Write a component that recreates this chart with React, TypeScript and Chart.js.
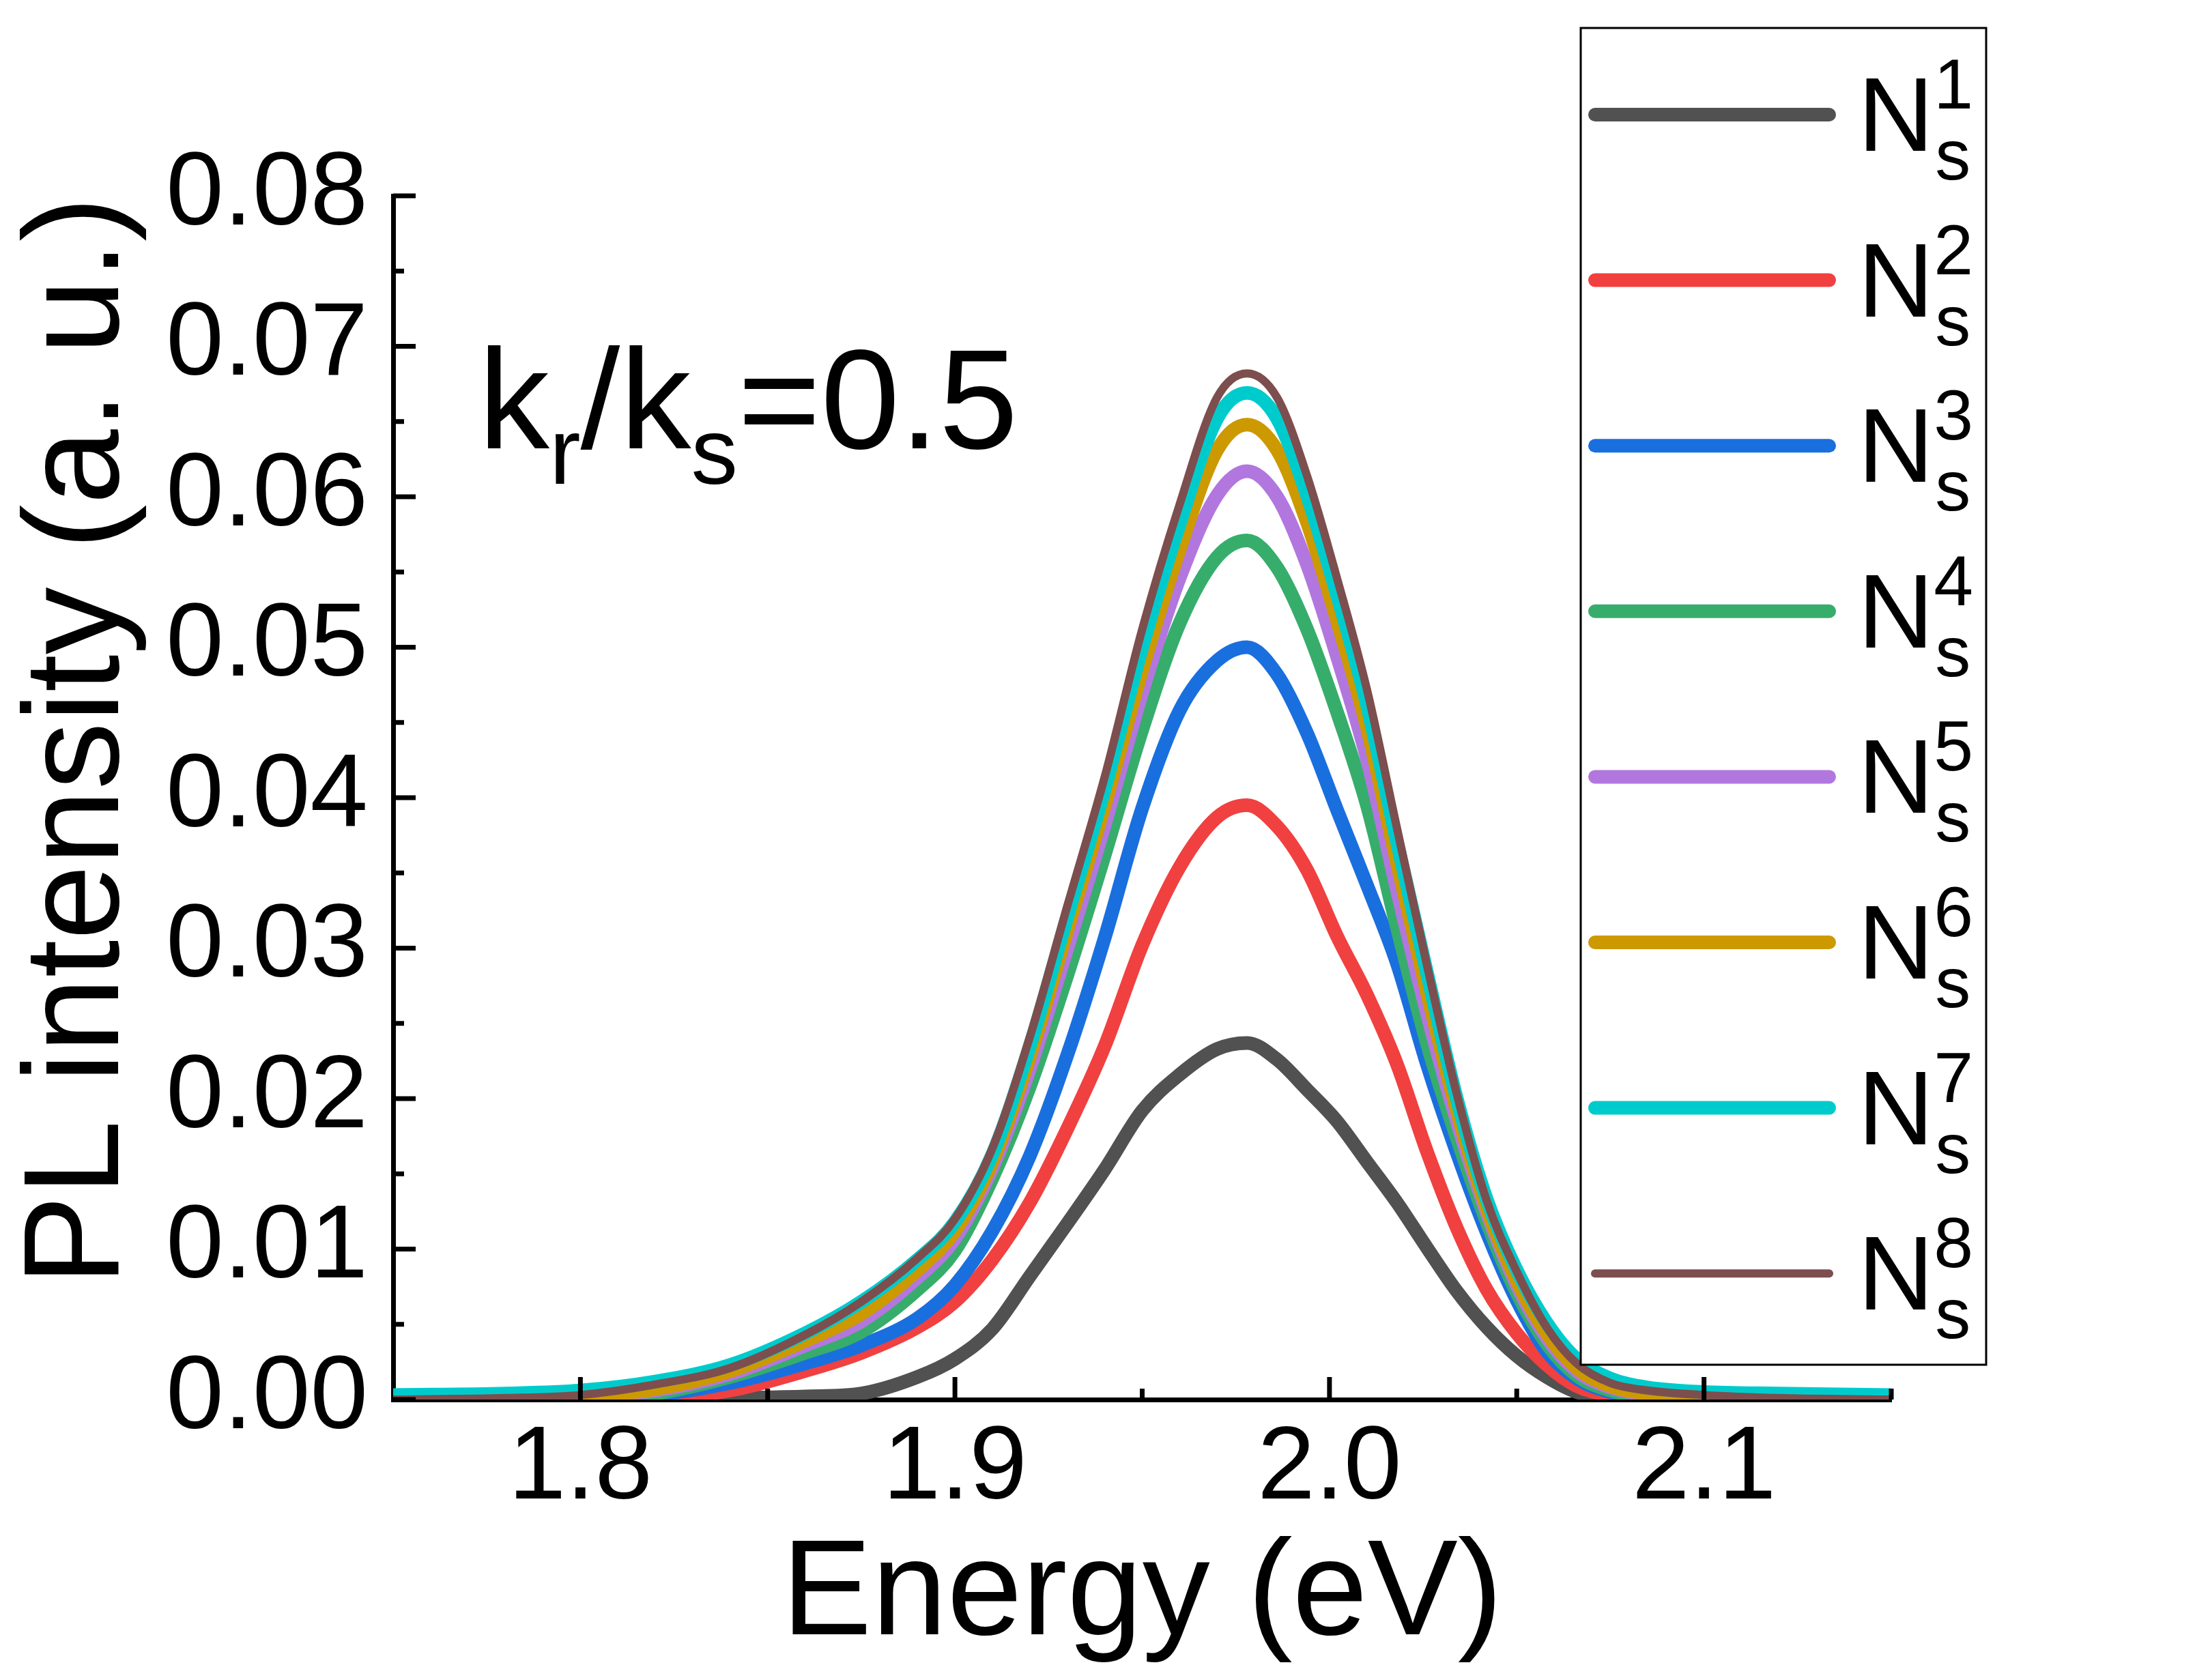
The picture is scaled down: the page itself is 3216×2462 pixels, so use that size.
import { useEffect, useRef } from "react";
import { Chart, ChartData, ChartOptions, Plugin, registerables } from "chart.js";

Chart.register(...registerables);

// photon energy grid (eV)
const energy = [
  1.75, 1.78, 1.8, 1.82, 1.84, 1.86, 1.875, 1.89, 1.9, 1.91, 1.92, 1.93, 1.94,
  1.95, 1.96, 1.97, 1.978, 1.986, 1.994, 2.002, 2.01, 2.018, 2.026, 2.034,
  2.042, 2.05, 2.058, 2.066, 2.075, 2.085, 2.1, 2.12, 2.15,
];

// PL intensity, one array per N_s
const pl1 = [
  0, 0, 0, 0, 0.0001, 0.0002, 0.0004, 0.0015, 0.0027, 0.0047, 0.0082, 0.0117,
  0.0153, 0.0192, 0.0216, 0.0233, 0.0237, 0.0226, 0.0206, 0.0185, 0.0158,
  0.0131, 0.0101, 0.0072, 0.0048, 0.0029, 0.0015, 0.0005, 0.0001, 0, 0, 0, 0,
];
const pl2 = [
  0, 0, 0, 0.0001, 0.0006, 0.0019, 0.0031, 0.0048, 0.0065, 0.0093, 0.0131,
  0.018, 0.0235, 0.0302, 0.0354, 0.0387, 0.0395, 0.0381, 0.0352, 0.0308,
  0.0269, 0.0223, 0.0165, 0.0114, 0.0073, 0.0044, 0.0023, 0.0009, 0.0003,
  0.0001, 0, 0, 0,
];
const pl3 = [
  0, 0, 0, 0.0003, 0.0011, 0.0024, 0.0036, 0.0054, 0.0076, 0.0112, 0.0162,
  0.0229, 0.0307, 0.0393, 0.0458, 0.0491, 0.05, 0.0482, 0.0443, 0.0392,
  0.0342, 0.029, 0.0223, 0.0164, 0.0111, 0.0066, 0.0032, 0.0014, 0.0005,
  0.0002, 0.0001, 0, 0,
];
const pl4 = [
  0, 0, 0.0001, 0.0004, 0.0015, 0.0031, 0.0045, 0.0073, 0.0099, 0.0147,
  0.0208, 0.0282, 0.0362, 0.0445, 0.0516, 0.056, 0.0571, 0.0553, 0.0512,
  0.0457, 0.0395, 0.0314, 0.0237, 0.0174, 0.0118, 0.0071, 0.0037, 0.0016,
  0.0006, 0.0002, 0.0001, 0, 0,
];
const pl5 = [
  0, 0, 0.0002, 0.0006, 0.0017, 0.0036, 0.0052, 0.0081, 0.0107, 0.0154, 0.022,
  0.03, 0.0382, 0.047, 0.0546, 0.0601, 0.0617, 0.06, 0.0555, 0.0494, 0.0426,
  0.0339, 0.0257, 0.0185, 0.0124, 0.0076, 0.0041, 0.0019, 0.0008, 0.0003,
  0.0001, 0, 0,
];
const pl6 = [
  0, 0.0001, 0.0002, 0.0007, 0.0019, 0.0039, 0.0057, 0.0086, 0.0112, 0.0158,
  0.0228, 0.0312, 0.0395, 0.0485, 0.0565, 0.0631, 0.0648, 0.0631, 0.0583,
  0.0518, 0.0447, 0.0357, 0.0271, 0.0192, 0.0127, 0.0079, 0.0044, 0.0021,
  0.0009, 0.0004, 0.0002, 0.0001, 0,
];
const pl7 = [
  0.0003, 0.0004, 0.0006, 0.0012, 0.0023, 0.0044, 0.0065, 0.0093, 0.0118,
  0.0163, 0.0235, 0.0321, 0.0406, 0.05, 0.0582, 0.0652, 0.0669, 0.0652,
  0.0601, 0.0535, 0.0462, 0.0371, 0.0284, 0.02, 0.0133, 0.0086, 0.0051,
  0.0027, 0.0014, 0.0008, 0.0005, 0.0004, 0.0003,
];
const pl8 = [
  0, 0.0001, 0.0003, 0.001, 0.0021, 0.0043, 0.0065, 0.0094, 0.012, 0.0167,
  0.0241, 0.0328, 0.0414, 0.0512, 0.0595, 0.0666, 0.0682, 0.0666, 0.0614,
  0.0546, 0.0472, 0.038, 0.0289, 0.0203, 0.0132, 0.0085, 0.0048, 0.0024,
  0.0011, 0.0006, 0.0003, 0.0001, 0,
];

const seriesValues = [pl1, pl2, pl3, pl4, pl5, pl6, pl7, pl8];
const seriesIndex = ["1", "2", "3", "4", "5", "6", "7", "8"];
const seriesColors = [
  "#515151", "#F14040", "#1A6FDF", "#37AD6B",
  "#B177DE", "#CC9900", "#00CBCC", "#7D4E4E",
];
const seriesWidths = [20, 20, 20, 20, 20, 20, 20, 12];

const xTickValues = [1.8, 1.9, 2.0, 2.1];
const xMinorTicks = [1.85, 1.95, 2.05, 2.15];
const yTickValues = [0, 0.01, 0.02, 0.03, 0.04, 0.05, 0.06, 0.07, 0.08];
const yMinorTicks = [0.005, 0.015, 0.025, 0.035, 0.045, 0.055, 0.065, 0.075];

const W = 3200;
const H = 2446;
const FONT = '"Liberation Sans", Arial, sans-serif';

const decorations: Plugin<"line"> = {
  id: "decorations",
  afterDraw(chart) {
    const { ctx, chartArea: area, scales } = chart;
    const xs = scales.x;
    const ys = scales.y;
    ctx.save();

    // inward tick marks
    ctx.strokeStyle = "#000";
    ctx.lineWidth = 7;
    ctx.lineCap = "butt";
    const seg = (x1: number, y1: number, x2: number, y2: number) => {
      ctx.beginPath();
      ctx.moveTo(x1, y1);
      ctx.lineTo(x2, y2);
      ctx.stroke();
    };
    xTickValues.forEach((v) => {
      const px = xs.getPixelForValue(v);
      seg(px, area.bottom, px, area.bottom - 33);
    });
    xMinorTicks.forEach((v) => {
      const px = xs.getPixelForValue(v);
      seg(px, area.bottom, px, area.bottom - 16);
    });
    yTickValues.forEach((v) => {
      const py = ys.getPixelForValue(v);
      seg(area.left, py, area.left + 33, py);
    });
    yMinorTicks.forEach((v) => {
      const py = ys.getPixelForValue(v);
      seg(area.left, py, area.left + 16, py);
    });

    ctx.fillStyle = "#000";
    ctx.textBaseline = "alphabetic";

    // axis titles
    ctx.font = `198px ${FONT}`;
    ctx.textAlign = "center";
    ctx.fillText("Energy (eV)", (area.left + area.right) / 2, 2387);
    ctx.save();
    ctx.translate(165, 1078);
    ctx.rotate(-Math.PI / 2);
    ctx.fillText("PL intensity (a. u.)", 0, 0);
    ctx.restore();

    // k_r/k_s = 0.5
    ctx.textAlign = "left";
    const parts = [
      { t: "k", s: 208, dy: 0 },
      { t: "r", s: 137, dy: 52 },
      { t: "/", s: 208, dy: 0 },
      { t: "k", s: 208, dy: 0 },
      { t: "s", s: 137, dy: 52 },
      { t: "=0.5", s: 208, dy: 0 },
    ];
    let cx = 693;
    parts.forEach((p) => {
      ctx.font = `${p.s}px ${FONT}`;
      ctx.fillText(p.t, cx, 649 + p.dy);
      cx += ctx.measureText(p.t).width;
    });

    // legend
    ctx.fillStyle = "#fff";
    ctx.fillRect(2308, 33, 594, 1959);
    ctx.strokeStyle = "#000";
    ctx.lineWidth = 3;
    ctx.strokeRect(2308, 33, 594, 1959);
    seriesIndex.forEach((label, i) => {
      const ly = 160 + i * 242.6;
      ctx.strokeStyle = seriesColors[i];
      ctx.lineWidth = seriesWidths[i];
      ctx.lineCap = "round";
      seg(2329, ly, 2672, ly);
      ctx.fillStyle = "#000";
      ctx.font = `154px ${FONT}`;
      ctx.fillText("N", 2714, ly + 53);
      const nx = 2714 + ctx.measureText("N").width;
      ctx.font = `104px ${FONT}`;
      ctx.fillText(label, nx, ly - 9);
      ctx.fillText("s", nx + 2, ly + 95);
    });

    ctx.restore();
  },
};

export default function App() {
  const canvasRef = useRef<HTMLCanvasElement>(null);
  const chartRef = useRef<Chart<"line"> | null>(null);

  useEffect(() => {
    if (!canvasRef.current) return;
    if (chartRef.current) chartRef.current.destroy();

    const data: ChartData<"line"> = {
      datasets: seriesValues.map((vals, i) => ({
        label: `N${seriesIndex[i]}`,
        data: vals.map((v, j) => ({ x: energy[j], y: v })),
        borderColor: seriesColors[i],
        borderWidth: seriesWidths[i],
        pointRadius: 0,
        cubicInterpolationMode: "monotone" as const,
        fill: false,
        order: 8 - i,
      })),
    };

    const tickFont = { family: FONT, size: 152 };

    const options: ChartOptions<"line"> = {
      responsive: false,
      animation: false,
      devicePixelRatio: 1,
      layout: { padding: { left: 0, right: W - 2763, top: 279, bottom: 0 } },
      plugins: { legend: { display: false }, tooltip: { enabled: false } },
      scales: {
        x: {
          type: "linear",
          min: 1.75,
          max: 2.15,
          afterBuildTicks: (s) => {
            s.ticks = xTickValues.map((value) => ({ value }));
          },
          afterFit: (s) => {
            s.height = H - 2043;
          },
          grid: { display: false, drawTicks: false },
          border: { display: true, color: "#000", width: 7 },
          ticks: {
            color: "#000",
            font: tickFont,
            padding: 12,
            autoSkip: false,
            maxRotation: 0,
            callback: (v) => Number(v).toFixed(1),
          },
        },
        y: {
          type: "linear",
          min: 0,
          max: 0.08,
          afterBuildTicks: (s) => {
            s.ticks = yTickValues.map((value) => ({ value }));
          },
          afterFit: (s) => {
            s.width = 568;
          },
          grid: { display: false, drawTicks: false },
          border: { display: true, color: "#000", width: 7 },
          ticks: {
            color: "#000",
            font: tickFont,
            padding: 37,
            autoSkip: false,
            callback: (v) => Number(v).toFixed(2),
          },
        },
      },
    };

    chartRef.current = new Chart(canvasRef.current, {
      type: "line",
      data,
      options,
      plugins: [decorations],
    });

    return () => {
      if (chartRef.current) {
        chartRef.current.destroy();
        chartRef.current = null;
      }
    };
  }, []);

  return (
    <canvas
      ref={canvasRef}
      width={W}
      height={H}
      style={{ display: "block", width: W, height: H }}
    />
  );
}
